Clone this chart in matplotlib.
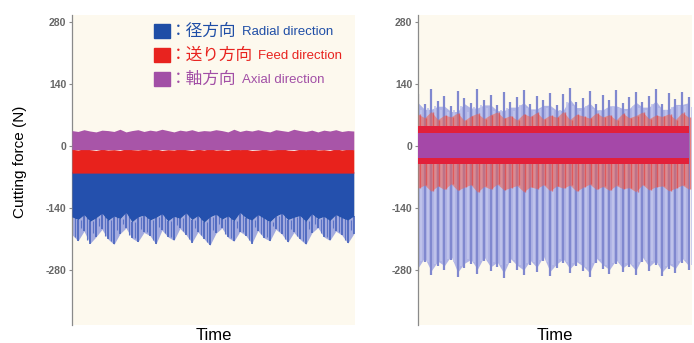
import numpy as np
import matplotlib
matplotlib.use("Agg")
import matplotlib.pyplot as plt
from matplotlib.patches import Rectangle

plt.rcParams['font.family'] = ['Liberation Sans', 'Noto Sans CJK JP', 'DejaVu Sans']

# ---- data (N) ----
yticks = [280, 140, 0, -140, -280]
ylim = (-404, 296)

# left panel: steady cutting, envelopes of each component
blue_top_l = [-58] * 48
blue_solid_l = [-160, -166, -155, -170, -162, -152, -168, -158, -164, -150, -171, -160,
                -156, -167, -161, -153, -169, -159, -163, -151, -166, -157, -172, -160,
                -154, -165, -158, -169, -150, -162, -167, -155, -163, -171, -158, -152,
                -166, -161, -157, -170, -153, -164, -159, -168, -155, -162, -167, -158]
blue_bot_l = [-200, -214, -192, -220, -205, -188, -210, -222, -198, -185, -208, -216,
              -195, -202, -221, -190, -205, -213, -186, -200, -218, -194, -209, -224,
              -197, -185, -206, -215, -193, -202, -220, -191, -207, -214, -188, -199,
              -217, -195, -210, -222, -196, -184, -205, -213, -192, -201, -219, -198]
red_top_l = [-7, -9, -6, -8, -10, -7, -9, -8, -10, -6, -8, -9,
             -7, -9, -6, -10, -8, -9, -6, -8, -10, -7, -9, -6,
             -9, -8, -10, -6, -8, -7, -10, -9, -7, -9, -8, -6,
             -9, -10, -7, -8, -6, -9, -8, -10, -6, -9, -7, -8]
red_bot_l = [-61] * 48
purple_top_l = [35, 33, 37, 34, 32, 36, 35, 33, 38, 32, 35, 37,
                33, 36, 34, 38, 35, 32, 36, 34, 37, 33, 35, 34,
                37, 35, 32, 38, 33, 36, 34, 37, 34, 32, 37, 35,
                33, 38, 35, 33, 36, 32, 36, 34, 37, 33, 35, 34]
purple_bot_l = [-8] * 48

# right panel: chatter, peaks of each cycle
blue_top_r = [118, 95, 128, 102, 112, 90, 125, 108, 98, 130, 105, 115, 92, 122,
              100, 110, 127, 96, 113, 104, 120, 93, 118, 131, 99, 109, 124, 94,
              116, 103, 126, 97, 111, 121, 100, 114, 128, 95, 119, 106, 123, 110]
blue_bot_r = [-285, -262, -292, -270, -280, -258, -295, -275, -266, -288, -260, -283,
              -272, -297, -264, -279, -290, -268, -284, -259, -293, -276, -265, -287,
              -271, -281, -296, -263, -278, -289, -267, -285, -274, -291, -261, -282,
              -269, -294, -277, -286, -263, -280]
red_top_r = [72, 64, 78, 60, 70, 66, 75, 58, 68, 74, 62, 71, 77, 63,
             69, 59, 73, 67, 76, 61, 70, 65, 78, 60, 72, 68, 63, 75,
             66, 71, 59, 74, 64, 69, 77, 62, 70, 67, 73, 60, 76, 65]
red_bot_r = [-95, -88, -102, -90, -98, -85, -100, -93, -87, -104, -91, -97,
             -86, -99, -94, -89, -103, -92, -96, -87, -101, -90, -95, -88,
             -102, -93, -86, -98, -91, -100, -89, -96, -94, -103, -87, -99,
             -92, -90, -101, -95, -88, -97]
red_core_top_r = [46] * 42
red_core_bot_r = [-40] * 42
purple_top_r = [30] * 42
purple_bot_r = [-28] * 42

legend_jp = ['：径方向', '：送り方向', '：軸方向']
legend_en = ['Radial direction', 'Feed direction', 'Axial direction']
legend_col = ['#1f4ea6', '#e8231f', '#a24fa6']

W, H = 694, 343
fig = plt.figure(figsize=(W / 100, H / 100), dpi=100)
fig.patch.set_facecolor('white')

ax1 = fig.add_axes([72 / W, 1 - 325 / H, 283 / W, 310 / H])
ax2 = fig.add_axes([418 / W, 1 - 325 / H, 274 / W, 310 / H])

for ax in (ax1, ax2):
    ax.set_facecolor('#fdf9ee')
    ax.set_ylim(*ylim)
    ax.set_yticks(yticks)
    ax.set_yticklabels([str(v) for v in yticks], fontsize=7.5, color='#666666',
                       fontweight='bold')
    ax.set_xticks([])
    for s in ('top', 'right', 'bottom'):
        ax.spines[s].set_visible(False)
    ax.spines['left'].set_color('#8a8a8a')
    ax.spines['left'].set_linewidth(0.9)
    ax.tick_params(axis='y', length=2.5, width=0.8, color='#8a8a8a', pad=1.5)
    ax.set_xlabel('Time', fontsize=12, labelpad=2)

# left panel
xl = np.arange(len(blue_bot_l))
ax1.fill_between(xl, blue_bot_l, blue_solid_l, color='#8d98dc', lw=0, alpha=0.8, zorder=1)
ax1.vlines(xl, blue_bot_l, blue_solid_l, color='#3d5bb8', lw=1.1, zorder=2)
ax1.vlines(xl + 0.5, np.array(blue_bot_l[1:] + blue_bot_l[:1]) + 8, blue_solid_l,
           color='#5a72c6', lw=0.8, zorder=2)
ax1.fill_between(xl, blue_solid_l, blue_top_l, color='#2450ad', lw=0, zorder=3)
ax1.fill_between(xl, red_bot_l, red_top_l, color='#e8221c', lw=0, zorder=4)
ax1.fill_between(xl, purple_bot_l, purple_top_l, color='#a855a8', lw=0, zorder=5)
ax1.set_xlim(0, len(xl) - 0.8)

# right panel
xr = np.arange(len(blue_top_r))
bt = np.array(blue_top_r)
bb = np.array(blue_bot_r)
ax2.fill_between(xr, bb + 10, np.minimum(bt, np.roll(bt, 1)) - 12, color='#b0b4e5',
                 lw=0, zorder=1)
ax2.vlines(xr, bb, bt, color='#8088cf', lw=1.6, zorder=2)
ax2.vlines(xr + 0.5, (bb + np.roll(bb, -1)) / 2 + 15, (bt + np.roll(bt, -1)) / 2 - 25,
           color='#c2c5ec', lw=1.2, zorder=2)
ax2.fill_between(xr, red_bot_r, red_top_r, color='#f0604c', alpha=0.55, lw=0, zorder=3)
ax2.vlines(xr + 0.25, red_bot_r, red_top_r, color='#e83a36', lw=1.0, alpha=0.6, zorder=4)
ax2.fill_between(xr, red_core_bot_r, red_core_top_r, color='#e2203a', lw=0, zorder=5)
ax2.fill_between(xr, purple_bot_r, purple_top_r, color='#a548a8', lw=0, zorder=6)
ax2.set_xlim(0, len(xr) - 0.5)

fig.text(20 / W, 1 - 162 / H, 'Cutting force (N)', rotation=90, fontsize=11,
         ha='center', va='center')

# legend
rows_y = [31, 55, 79]
fig.canvas.draw()
r = fig.canvas.get_renderer()
for jp, en, c, yy in zip(legend_jp, legend_en, legend_col, rows_y):
    fig.patches.append(Rectangle((154 / W, 1 - (yy + 7) / H), 16 / W, 14 / H,
                                 transform=fig.transFigure, color=c, zorder=5))
    t = fig.text(170 / W, 1 - yy / H, jp, fontsize=12, color=c, va='center',
                 family=['Noto Sans CJK JP'])
    x1 = t.get_window_extent(r).x1
    fig.text((x1 + 5) / W, 1 - (yy + 1) / H, en, fontsize=9.5, color=c, va='center')

fig.savefig('out.png', dpi=100, facecolor='white')
